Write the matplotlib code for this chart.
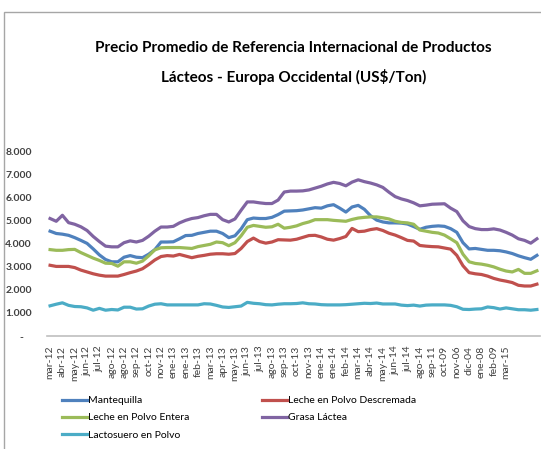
import numpy as np
import matplotlib.pyplot as plt
from matplotlib.patches import Rectangle
from matplotlib.lines import Line2D

# Datos (miles de US$/Ton), 80 observaciones
etiquetas = ["mar-12", "abr-12", "may-12", "jun-12", "jul-12", "ago-12", "ago-12", "sep-12",
             "oct-12", "nov-12", "ene-13", "ene-13", "feb-13", "mar-13", "apr-13", "may-13",
             "jun-13", "jul-13", "ago-13", "sep-13", "oct-13", "nov-13", "ene-14", "ene-14",
             "feb-14", "mar-14", "abr-14", "may-14", "jun-14", "jul-14", "ago-14", "sep-11",
             "oct-09", "nov-06", "dic-04", "ene-08", "feb-09", "mar-15"]

mantequilla = [4.55, 4.45, 4.42, 4.37, 4.27, 4.15, 4.02, 3.78, 3.52, 3.32,
               3.22, 3.22, 3.42, 3.49, 3.42, 3.40, 3.55, 3.75, 4.08, 4.08,
               4.09, 4.22, 4.36, 4.37, 4.45, 4.50, 4.55, 4.55, 4.45, 4.27,
               4.35, 4.65, 5.05, 5.12, 5.10, 5.10, 5.15, 5.27, 5.42, 5.43,
               5.44, 5.47, 5.52, 5.57, 5.55, 5.65, 5.70, 5.55, 5.38, 5.60,
               5.67, 5.50, 5.22, 5.03, 4.95, 4.91, 4.91, 4.90, 4.86, 4.75,
               4.63, 4.72, 4.76, 4.78, 4.76, 4.66, 4.50, 4.05, 3.78, 3.80,
               3.76, 3.72, 3.72, 3.70, 3.65, 3.58, 3.48, 3.40, 3.33, 3.50]

descremada = [3.07, 3.02, 3.02, 3.02, 2.97, 2.86, 2.78, 2.70, 2.64, 2.60,
              2.60, 2.60, 2.67, 2.75, 2.82, 2.92, 3.10, 3.30, 3.45, 3.49,
              3.47, 3.54, 3.47, 3.40, 3.46, 3.50, 3.55, 3.57, 3.57, 3.55,
              3.58, 3.80, 4.10, 4.25, 4.10, 4.03, 4.08, 4.18, 4.17, 4.16,
              4.20, 4.28, 4.36, 4.37, 4.30, 4.20, 4.16, 4.23, 4.32, 4.67,
              4.53, 4.55, 4.62, 4.66, 4.58, 4.46, 4.38, 4.27, 4.15, 4.12,
              3.93, 3.90, 3.88, 3.87, 3.82, 3.77, 3.50, 3.05, 2.75, 2.70,
              2.67, 2.60, 2.50, 2.43, 2.38, 2.32, 2.20, 2.17, 2.17, 2.25]

entera = [3.75, 3.72, 3.72, 3.75, 3.76, 3.62, 3.50, 3.38, 3.28, 3.16,
          3.15, 3.03, 3.22, 3.22, 3.16, 3.25, 3.48, 3.74, 3.83, 3.84,
          3.84, 3.84, 3.82, 3.80, 3.88, 3.93, 3.98, 4.08, 4.05, 3.92,
          4.05, 4.35, 4.72, 4.80, 4.76, 4.72, 4.74, 4.85, 4.68, 4.72,
          4.78, 4.88, 4.95, 5.05, 5.05, 5.05, 5.02, 5.00, 4.98, 5.06,
          5.12, 5.15, 5.17, 5.17, 5.13, 5.08, 4.98, 4.93, 4.91, 4.85,
          4.60, 4.55, 4.50, 4.47, 4.38, 4.22, 4.05, 3.55, 3.22, 3.15,
          3.12, 3.07, 3.00, 2.90, 2.82, 2.78, 2.89, 2.72, 2.72, 2.83]

grasa = [5.10, 4.98, 5.24, 4.92, 4.85, 4.74, 4.58, 4.32, 4.10, 3.90,
         3.87, 3.87, 4.05, 4.13, 4.08, 4.15, 4.33, 4.55, 4.73, 4.73,
         4.76, 4.91, 5.02, 5.10, 5.14, 5.22, 5.28, 5.28, 5.05, 4.95,
         5.08, 5.46, 5.82, 5.82, 5.78, 5.75, 5.75, 5.90, 6.25, 6.29,
         6.29, 6.30, 6.34, 6.42, 6.50, 6.60, 6.67, 6.62, 6.52, 6.68,
         6.78, 6.70, 6.64, 6.56, 6.45, 6.24, 6.05, 5.95, 5.88, 5.78,
         5.65, 5.68, 5.72, 5.73, 5.74, 5.55, 5.40, 5.00, 4.75, 4.66,
         4.62, 4.62, 4.65, 4.60, 4.50, 4.38, 4.22, 4.15, 4.03, 4.22]

lactosuero = [1.31, 1.38, 1.44, 1.33, 1.28, 1.27, 1.22, 1.12, 1.20, 1.12,
              1.15, 1.13, 1.25, 1.25, 1.17, 1.18, 1.30, 1.38, 1.40, 1.35,
              1.35, 1.35, 1.35, 1.35, 1.35, 1.40, 1.39, 1.33, 1.26, 1.24,
              1.27, 1.30, 1.46, 1.42, 1.40, 1.36, 1.35, 1.38, 1.40, 1.40,
              1.41, 1.44, 1.40, 1.39, 1.36, 1.35, 1.35, 1.35, 1.36, 1.38,
              1.40, 1.42, 1.41, 1.43, 1.39, 1.39, 1.39, 1.34, 1.32, 1.34,
              1.30, 1.34, 1.35, 1.35, 1.35, 1.33, 1.27, 1.16, 1.15, 1.17,
              1.18, 1.26, 1.23, 1.17, 1.22, 1.18, 1.14, 1.14, 1.12, 1.15]

series = [
    ("Mantequilla", mantequilla, "#4F81BD"),
    ("Leche en Polvo Descremada", descremada, "#C0504D"),
    ("Leche en Polvo Entera", entera, "#9BBB59"),
    ("Grasa Láctea", grasa, "#8064A2"),
    ("Lactosuero en Polvo", lactosuero, "#4BACC6"),
]

plt.rcParams["font.family"] = ["Lato", "DejaVu Sans"]

fig = plt.figure(figsize=(5.41, 4.49), dpi=100)

# marco del gráfico
fig.patches.append(Rectangle((4 / 541, -0.1), 1.2, (449 - 12) / 449 + 0.1,
                             transform=fig.transFigure, fill=False,
                             edgecolor="#A6A6A6", linewidth=1.0))

ax = fig.add_axes([47 / 541, (449 - 336) / 449, 493 / 541, (336 - 151.7) / 449])

x = np.arange(len(mantequilla))
for nombre, valores, color in series:
    ax.plot(x, np.array(valores) * 1000, color=color, linewidth=2.3,
            solid_joinstyle="round", label=nombre)

ax.set_xlim(-0.5, len(x) - 0.5)
ax.set_ylim(0, 8000)
ax.set_yticks(range(0, 8001, 1000))
ax.set_yticklabels(["-   "] + [f"{v}.000" for v in range(1, 9)],
                   fontsize=7.5, fontweight="bold", color="#404040")
ax.set_xticks(x[::2][:len(etiquetas)])
ax.set_xticklabels(etiquetas, rotation=90, fontsize=7.5, color="#404040")
ax.tick_params(axis="both", length=0)
ax.tick_params(axis="y", pad=11)
ax.tick_params(axis="x", pad=7)

for lado in ["top", "right", "left"]:
    ax.spines[lado].set_visible(False)
ax.spines["bottom"].set_color("#BFBFBF")
ax.spines["bottom"].set_linewidth(1.2)

fig.text(0.543, (449 - 48) / 449,
         "Precio Promedio de Referencia Internacional de Productos",
         ha="center", va="center", fontsize=11, fontweight="bold")
fig.text(0.543, (449 - 77) / 449,
         "Lácteos - Europa Occidental (US$/Ton)",
         ha="center", va="center", fontsize=11, fontweight="bold")

# leyenda en dos columnas (dos leyendas colocadas por separado)
def leyenda(indices, x0):
    handles = [Line2D([], [], color=series[i][2], linewidth=2.3) for i in indices]
    labels = [series[i][0] for i in indices]
    fig.legend(handles, labels, loc="upper left",
               bbox_to_anchor=(x0 / 541, (449 - 396) / 449),
               frameon=False, fontsize=7.5, handlelength=2.4, handletextpad=0.05,
               labelspacing=0.75, borderaxespad=0, borderpad=0)

leyenda([0, 2, 4], 62)
leyenda([1, 3], 262)

plt.savefig("out.png", dpi=100)
